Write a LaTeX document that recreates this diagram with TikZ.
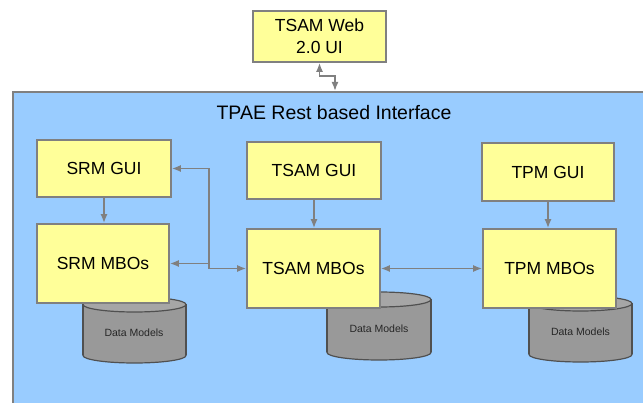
\documentclass[tikz,border=0pt]{standalone}
\usepackage{fontspec}
\setmainfont{Liberation Sans}
\usetikzlibrary{arrows.meta}
\definecolor{boxyellow}{HTML}{FFFF99}
\definecolor{boxblue}{HTML}{99CCFF}
\definecolor{edgegray}{HTML}{808080}
\definecolor{cylfill}{HTML}{999999}
\definecolor{cyltop}{HTML}{A6A6A6}
\definecolor{cyledge}{HTML}{505050}
\tikzset{
  ybox/.style={draw=edgegray, line width=1.6pt, fill=boxyellow, font=\fontsize{17.5}{22}\selectfont, align=center, inner sep=0pt},
  conn/.style={draw=edgegray, line width=1.7pt, arrows={-Latex[length=9pt,width=7pt]}},
  bconn/.style={draw=edgegray, line width=1.7pt, arrows={Latex[length=9pt,width=7pt]-Latex[length=9pt,width=7pt]}},
  dmlabel/.style={font=\fontsize{10.5}{12}\selectfont, text=black!85},
}
\begin{document}
\begin{tikzpicture}[x=1pt,y=-1pt]
\useasboundingbox (0,0) rectangle (643,403);
\clip (0,0) rectangle (643,403);
\fill[white] (0,0) rectangle (643,403);
% background panel
\node[draw=edgegray, line width=1.6pt, fill=boxblue, minimum width=660pt, minimum height=330pt, anchor=north west, inner sep=0pt] (panel) at (12,91) {};
\node[font=\fontsize{19.5}{22}\selectfont] (title) at (334,113) {TPAE Rest based Interface};
% cylinders
\foreach \cx/\ty/\by/\rx/\nm in {134.5/304.5/355.5/51.5/a, 379/299.5/352.5/52/b, 580.5/303.5/354.5/51.5/c}{
  \draw[cyledge, line width=1.2pt, fill=cylfill] (\cx,\by) ellipse [x radius=\rx, y radius=7.5];
  \fill[cylfill] (\cx-\rx,\ty) rectangle (\cx+\rx,\by);
  \draw[cyledge, line width=1.2pt] (\cx-\rx,\ty) -- (\cx-\rx,\by) (\cx+\rx,\ty) -- (\cx+\rx,\by);
  \draw[cyledge, line width=1.2pt, fill=cyltop] (\cx,\ty) ellipse [x radius=\rx, y radius=7.5];
}
\node[dmlabel] (dm1) at (134,333) {Data Models};
\node[dmlabel] (dm2) at (379,329) {Data Models};
\node[dmlabel] (dm3) at (580.5,332) {Data Models};
% boxes
\node[ybox, minimum width=133pt, minimum height=51pt] (web) at (319.5,36.5) {TSAM Web\\2.0 UI};
\node[ybox, minimum width=134pt, minimum height=57pt] (srmgui) at (104,168.5) {SRM GUI};
\node[ybox, minimum width=132pt, minimum height=79pt] (srmmbo) at (103,263.5) {SRM MBOs};
\node[ybox, minimum width=134pt, minimum height=57pt] (tsamgui) at (314,170.5) {TSAM GUI};
\node[ybox, minimum width=133pt, minimum height=79pt] (tsammbo) at (313.5,268.5) {TSAM MBOs};
\node[ybox, minimum width=132pt, minimum height=58pt] (tpmgui) at (548,172) {TPM GUI};
\node[ybox, minimum width=133pt, minimum height=79pt] (tpmmbo) at (549.5,268.5) {TPM MBOs};
% connectors
\coordinate (w1) at (319.5,76);
\coordinate (w2) at (335,76);
\coordinate (pt) at (335,91);
\draw[bconn] (web.south) -- (w1) -- (w2) -- (pt);
\coordinate (j) at (209,268.5);
\coordinate (k) at (209,263.5);
\draw[bconn] (srmgui.east) -| (j) -- (tsammbo.west);
\draw[conn] (k) -- (srmmbo.east);
\draw[conn] (srmgui.south) -- (srmgui.south |- srmmbo.north);
\draw[conn] (tsamgui.south) -- (tsamgui.south |- tsammbo.north);
\draw[conn] (tpmgui.south) -- (tpmgui.south |- tpmmbo.north);
\draw[bconn] (tsammbo.east) -- (tpmmbo.west);
\end{tikzpicture}
\end{document}
